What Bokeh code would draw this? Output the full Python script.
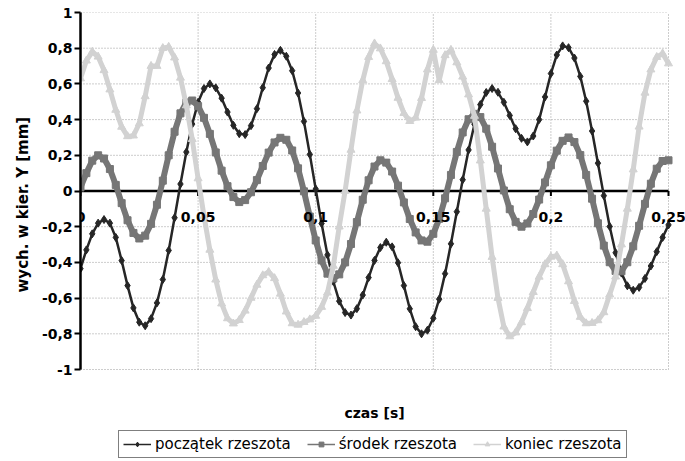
from bokeh.plotting import figure
from bokeh.models import (FixedTicker, Legend, LegendItem, Range1d, Grid, Title,
                          LabelSet, Label, ColumnDataSource)
from bokeh.core.properties import value
from bokeh.embed import file_html
from bokeh.resources import INLINE

# sampling grid of the recording [s]
time = [i * 0.0025 for i in range(101)]

poczatek = [
    -0.435, -0.33, -0.24, -0.18, -0.16, -0.18, -0.26, -0.39, -0.53, -0.655,
    -0.735, -0.755, -0.715, -0.627, -0.496, -0.333, -0.15, 0.039, 0.218, 0.375,
    0.497, 0.574, 0.60, 0.578, 0.52, 0.442, 0.368, 0.321, 0.316, 0.366,
    0.461, 0.579, 0.689, 0.765, 0.788, 0.755, 0.674, 0.549, 0.39, 0.205,
    0.011, -0.182, -0.358, -0.507, -0.617, -0.681, -0.695, -0.659, -0.583, -0.485,
    -0.389, -0.317, -0.287, -0.313, -0.402, -0.53, -0.66, -0.76, -0.80, -0.78,
    -0.713, -0.606, -0.463, -0.296, -0.116, 0.063, 0.23, 0.374, 0.484, 0.552,
    0.574, 0.553, 0.497, 0.423, 0.349, 0.295, 0.275, 0.308, 0.40, 0.527,
    0.658, 0.762, 0.813, 0.803, 0.745, 0.642, 0.503, 0.336, 0.156, -0.026,
    -0.199, -0.346, -0.46, -0.531, -0.556, -0.54, -0.49, -0.42, -0.34, -0.26,
    -0.19,
]

srodek = [
    0.02, 0.10, 0.17, 0.20, 0.182, 0.123, 0.034, -0.068, -0.164, -0.235,
    -0.266, -0.25, -0.184, -0.077, 0.058, 0.20, 0.332, 0.435, 0.496, 0.507,
    0.475, 0.41, 0.32, 0.216, 0.114, 0.027, -0.034, -0.062, -0.051, -0.007,
    0.061, 0.14, 0.215, 0.272, 0.298, 0.287, 0.227, 0.127, -0.002, -0.143,
    -0.277, -0.389, -0.463, -0.49, -0.467, -0.40, -0.297, -0.174, -0.049, 0.06,
    0.137, 0.172, 0.159, 0.109, 0.03, -0.064, -0.157, -0.232, -0.277, -0.284,
    -0.24, -0.156, -0.041, 0.09, 0.219, 0.328, 0.402, 0.432, 0.414, 0.349,
    0.248, 0.126, 0.003, -0.102, -0.173, -0.20, -0.182, -0.129, -0.048, 0.048,
    0.144, 0.226, 0.281, 0.30, 0.274, 0.201, 0.09, -0.043, -0.181, -0.306,
    -0.399, -0.448, -0.45, -0.399, -0.31, -0.195, -0.072, 0.041, 0.125, 0.168,
    0.172,
]

koniec = [
    0.63, 0.73, 0.78, 0.752, 0.676, 0.568, 0.454, 0.359, 0.306, 0.31,
    0.378, 0.53, 0.70, 0.70, 0.80, 0.807, 0.747, 0.634, 0.479, 0.29,
    0.07, -0.14, -0.33, -0.497, -0.631, -0.714, -0.743, -0.724, -0.671, -0.599,
    -0.526, -0.473, -0.454, -0.489, -0.576, -0.676, -0.742, -0.75, -0.735, -0.72,
    -0.70, -0.65, -0.57, -0.42, -0.20, 0.0, 0.23, 0.45, 0.62, 0.75,
    0.826, 0.798, 0.726, 0.626, 0.521, 0.436, 0.391, 0.41, 0.52, 0.68,
    0.79, 0.62, 0.76, 0.79, 0.72, 0.64, 0.54, 0.42, 0.17, -0.10,
    -0.37, -0.60, -0.76, -0.815, -0.793, -0.736, -0.657, -0.567, -0.481, -0.411,
    -0.369, -0.362, -0.411, -0.507, -0.617, -0.706, -0.742, -0.74, -0.725, -0.68,
    -0.58, -0.48, -0.30, -0.10, 0.12, 0.36, 0.55, 0.68, 0.75, 0.77,
    0.714,
]

series_names = ["początek rzeszota", "środek rzeszota", "koniec rzeszota"]

x_ticks = [0, 0.05, 0.1, 0.15, 0.2, 0.25]
x_tick_labels = ["0", "0,05", "0,1", "0,15", "0,2", "0,25"]
y_ticks = [-1, -0.8, -0.6, -0.4, -0.2, 0, 0.2, 0.4, 0.6, 0.8, 1]
y_tick_labels = ["-1", "-0,8", "-0,6", "-0,4", "-0,2", "0", "0,2", "0,4", "0,6", "0,8", "1"]

FONT = "DejaVu Sans"
TICK_LEN = 0.028  # ~5 px below the zero line
W, H = 685, 461
LEFT, TOP = 80, 12
PLOT_W, PLOT_H = 588, 357          # pixel size of the 0..0.25 x -1..1 area
x0, x1 = x_ticks[0], x_ticks[-1]
y0, y1 = y_ticks[0], y_ticks[-1]
# frame extends beyond the data area so the texts below/right are not clipped
x_end = x0 + (x1 - x0) * (W - LEFT) / PLOT_W
y_start = y1 - (y1 - y0) * (H - TOP) / PLOT_H

p = figure(width=W, height=H, x_range=Range1d(x0, x_end), y_range=Range1d(y_start, y1),
           output_backend="svg", toolbar_location=None, x_axis_location=None,
           min_border_left=LEFT, min_border_right=0, min_border_top=TOP, min_border_bottom=0)
p.outline_line_color = None
p.background_fill_color = "white"
p.border_fill_color = "white"
p.center = [r for r in p.center if not isinstance(r, Grid)]

GRID = dict(line_color="#9a9a9a", line_dash="1 2", line_width=1)
# dotted grid lines, limited to the data area
p.segment(x0=x_ticks, y0=[y0] * len(x_ticks), x1=x_ticks, y1=[y1] * len(x_ticks), **GRID)
p.segment(x0=[x0] * len(y_ticks), y0=y_ticks, x1=[x1] * len(y_ticks), y1=y_ticks, **GRID)

# y axis
ya = p.yaxis[0]
ya.bounds = (y0, y1)
ya.ticker = FixedTicker(ticks=y_ticks)
ya.major_label_overrides = dict(zip(y_ticks, y_tick_labels))
ya.axis_line_color = "black"
ya.axis_line_width = 2.5
ya.major_tick_out = 6
ya.major_tick_in = 0
ya.major_tick_line_width = 2
ya.minor_tick_out = 0
ya.minor_tick_in = 0
ya.major_label_text_font = FONT
ya.major_label_text_font_style = "bold"
ya.major_label_text_font_size = "14px"
ya.major_label_text_color = "black"
ya.major_label_standoff = 2

ytitle = Title(text="wych. w kier. Y [mm]", align="left", offset=169, standoff=13,
               text_font=FONT, text_font_style="bold", text_font_size="15px",
               text_color="black")
p.add_layout(ytitle, "left")

# x axis crossing at y = 0 (line, ticks, labels)
p.segment(x0=[x0], y0=[0], x1=[x1], y1=[0], line_color="black", line_width=2.5)
p.segment(x0=x_ticks, y0=[0] * len(x_ticks), x1=x_ticks, y1=[-TICK_LEN] * len(x_ticks),
          line_color="black", line_width=2)
xlab_src = ColumnDataSource(dict(x=x_ticks, y=[0] * len(x_ticks), text=x_tick_labels))
xlabels = LabelSet(x="x", y="y", text="text", source=xlab_src, y_offset=-21,
                   text_align="center", text_baseline="top", text_font=value(FONT),
                   text_font_style="bold", text_font_size="14px", text_color="black")
p.add_layout(xlabels)

# x axis title below the data area
xtitle = Label(x=(x0 + x1) / 2, y=y0, text="czas [s]", y_offset=-43, text_align="center",
               text_baseline="middle", text_font=FONT, text_font_style="bold",
               text_font_size="14px", text_color="black")
p.add_layout(xtitle)

styles = [
    dict(color="#262626", marker="diamond", lw=2.5, size=8),
    dict(color="#767676", marker="square", lw=6, size=7),
    dict(color="#d2d2d2", marker="triangle", lw=5, size=8),
]
nan = float("nan")
items = []
for name, vals, st in zip(series_names, [poczatek, srodek, koniec], styles):
    p.line(time, vals, line_color=st["color"], line_width=st["lw"])
    p.scatter(time, vals, marker=st["marker"], size=st["size"],
              fill_color=st["color"], line_color=st["color"])
    # legend glyphs: thin line with a small marker (no visible data)
    lg1 = p.line([0.0], [nan], line_color=st["color"], line_width=1.5)
    lg2 = p.scatter([0.0], [nan], marker=st["marker"], size=6,
                    fill_color=st["color"], line_color=st["color"])
    items.append(LegendItem(label=name, renderers=[lg1, lg2]))

legend = Legend(items=items, orientation="horizontal", location=(38, 3),
                border_line_color="black", border_line_width=1,
                background_fill_color="white", background_fill_alpha=1,
                label_text_font=FONT, label_text_font_size="15px",
                label_text_color="black",
                glyph_width=28, glyph_height=12, spacing=16, padding=4,
                margin=0, label_standoff=4)
p.add_layout(legend, "center")

open("out.html", "w").write(file_html(p, INLINE))
